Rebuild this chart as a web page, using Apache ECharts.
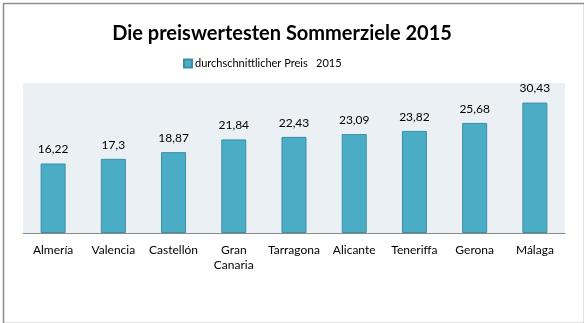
<!DOCTYPE html>
<html>
<head>
<meta charset="utf-8">
<script src="https://cdn.jsdelivr.net/npm/echarts@6/dist/echarts.min.js"></script>
<style>
html,body{margin:0;padding:0;background:#fff;}
#c{width:584px;height:323px;}
</style>
</head>
<body>
<div id="c"></div>
<script>
const titleText = 'Die preiswertesten Sommerziele 2015';
const seriesName = 'durchschnittlicher Preis   2015';
const categories = ['Almería','Valencia','Castellón','Gran\nCanaria','Tarragona','Alicante','Teneriffa','Gerona','Málaga'];
const values = [16.22, 17.3, 18.87, 21.84, 22.43, 23.09, 23.82, 25.68, 30.43];
const valueLabels = ['16,22','17,3','18,87','21,84','22,43','23,09','23,82','25,68','30,43'];

const font = 'Lato, "Open Sans", sans-serif';
const chart = echarts.init(document.getElementById('c'), null, {renderer:'canvas'});
chart.setOption({
  animation:false,
  backgroundColor:'#fff',
  graphic:[{
    type:'rect', left:1, top:1, z:-10,
    shape:{width:581, height:320},
    style:{fill:'none', stroke:'#8c8c8c', lineWidth:1.5}
  }],
  title:{
    text:titleText, left:277, top:19, textAlign:'center',
    textStyle:{fontFamily:font, fontSize:20, fontWeight:'bold', color:'#000'}
  },
  legend:{
    data:[seriesName], left:178, top:53,
    itemWidth:8, itemHeight:8, itemGap:4,
    icon:'rect',
    textStyle:{fontFamily:font, fontSize:11, color:'#000', padding:[0,0,0,-2]}
  },
  grid:{left:23, right:19, top:83, bottom:90, show:true, backgroundColor:'#EAF0F4', borderWidth:0},
  xAxis:{
    type:'category', data:categories,
    axisLine:{lineStyle:{color:'#8a8a8a', width:1}},
    axisTick:{show:false},
    axisLabel:{fontFamily:font, fontSize:12, color:'#000', margin:10, lineHeight:15, interval:0}
  },
  yAxis:{
    type:'value', min:0, max:35, show:false, splitLine:{show:false}
  },
  series:[{
    name:seriesName, type:'bar', data:values, barWidth:25,
    itemStyle:{color:'#4BACC6', borderColor:'#3B8FA5', borderWidth:1},
    label:{show:true, position:'top', distance:8, fontFamily:font, fontSize:12, color:'#000',
      formatter:p=>valueLabels[p.dataIndex]}
  }]
});
</script>
</body>
</html>
